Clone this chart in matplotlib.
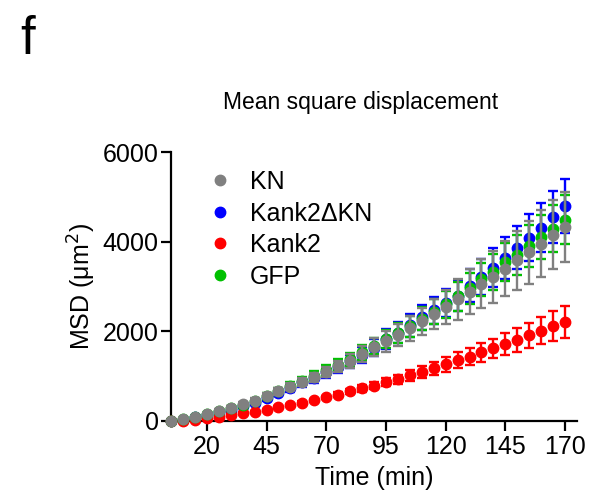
import matplotlib.pyplot as plt
from matplotlib.lines import Line2D

plt.rcParams['font.family'] = ['Liberation Sans', 'DejaVu Sans']

# time points (min)
time_min = list(range(5, 175, 5))

# MSD means (um^2)
kn = [10, 45, 100, 160, 225, 297, 371, 452, 563, 660, 764, 875, 973, 1098, 1218, 1343, 1492,
      1641, 1775, 1915, 2064, 2227, 2383, 2540, 2715, 2880, 3060, 3214, 3395, 3580, 3760,
      3958, 4150, 4328]
kank2_dkn = [0, 30, 80, 130, 190, 255, 330, 410, 520, 630, 740, 860, 960, 1085, 1200, 1330, 1470,
             1630, 1830, 1967, 2138, 2310, 2472, 2635, 2790, 3020, 3214, 3423, 3637, 3868, 4091,
             4314, 4550, 4788]
kank2 = [0, 10, 20, 60, 100, 135, 170, 210, 255, 305, 356, 408, 465, 525, 590, 660, 725,
         790, 860, 935, 1018, 1098, 1173, 1262, 1359, 1432, 1530, 1620, 1715, 1804, 1909,
         2012, 2116, 2205]
gfp = [10, 40, 95, 155, 220, 290, 365, 445, 555, 670, 785, 900, 1010, 1135, 1255, 1380, 1530,
       1680, 1820, 1960, 2110, 2280, 2440, 2600, 2780, 2960, 3163, 3326, 3548, 3710, 3898,
       4105, 4290, 4491]

# error (SEM)
kn_err = [10, 15, 20, 28, 32, 38, 44, 50, 60, 70, 80, 90, 100, 115, 130, 150, 170,
          200, 230, 250, 270, 300, 340, 380, 460, 500, 550, 580, 610, 665, 695,
          740, 770, 785]
kank2_dkn_err = [10, 15, 20, 25, 30, 35, 45, 55, 65, 75, 85, 95, 105, 120, 135, 150, 170,
                 190, 215, 235, 255, 280, 300, 320, 345, 370, 395, 425, 460, 485, 515,
                 550, 580, 600]
kank2_err = [2, 4, 5, 6, 8, 10, 12, 15, 18, 20, 25, 30, 35, 42, 50, 60, 70,
             80, 90, 100, 115, 130, 145, 160, 175, 190, 205, 220, 240, 260, 280,
             300, 330, 350]
gfp_err = [8, 12, 18, 22, 28, 35, 42, 50, 60, 70, 80, 90, 100, 115, 130, 145, 160,
           180, 200, 220, 240, 260, 280, 300, 325, 345, 370, 395, 420, 445, 470,
           495, 520, 540]

series = [
    ("Kank2\u0394KN", kank2_dkn, kank2_dkn_err, "#0000ff", 2),
    ("Kank2", kank2, kank2_err, "#ff0000", 3),
    ("GFP", gfp, gfp_err, "#00c000", 4),
    ("KN", kn, kn_err, "#808080", 5),
]

fig = plt.figure(figsize=(5.89, 4.96), dpi=100)
ax = fig.add_axes([171 / 589, 1 - 421 / 496, (577 - 171) / 589, (421 - 152) / 496])

for name, y, err, col, z in series:
    ax.errorbar(time_min, y, yerr=err, fmt="o", color=col, ecolor=col, markersize=7.5,
                elinewidth=1.7, capsize=3.8, capthick=1.7, zorder=z, clip_on=False)

ax.set_xlim(5, 175)
ax.set_ylim(0, 6000)
ax.set_xticks([20, 45, 70, 95, 120, 145, 170])
ax.set_yticks([0, 2000, 4000, 6000])
ax.spines["top"].set_visible(False)
ax.spines["right"].set_visible(False)
for s in ["left", "bottom"]:
    ax.spines[s].set_linewidth(1.6)
ax.tick_params(axis="both", labelsize=18, width=1.6, length=7, pad=2, colors="black")
ax.tick_params(axis="x", pad=3)
ax.set_xlabel("Time (min)", fontsize=18, labelpad=5)
ax.set_ylabel("MSD (\u03bcm$^2$)", fontsize=18, labelpad=3)

# legend in the figure's order
order = [("KN", "#808080"), ("Kank2\u0394KN", "#0000ff"), ("Kank2", "#ff0000"), ("GFP", "#00c000")]
handles = [Line2D([], [], marker="o", linestyle="none", color=c, markersize=7.5) for _, c in order]
ax.legend(handles, [n for n, _ in order], loc="upper left", bbox_to_anchor=(0.035, 1.016),
          frameon=False, fontsize=18, handletextpad=0.7, labelspacing=0.3, handlelength=1.0)

fig.text(361 / 589, 1 - 103 / 496, "Mean square displacement", fontsize=16.5, ha="center", va="center")
fig.text(20 / 589, 1 - 40 / 496, "f", fontsize=38, ha="left", va="center")

fig.savefig("out.png", dpi=100)
